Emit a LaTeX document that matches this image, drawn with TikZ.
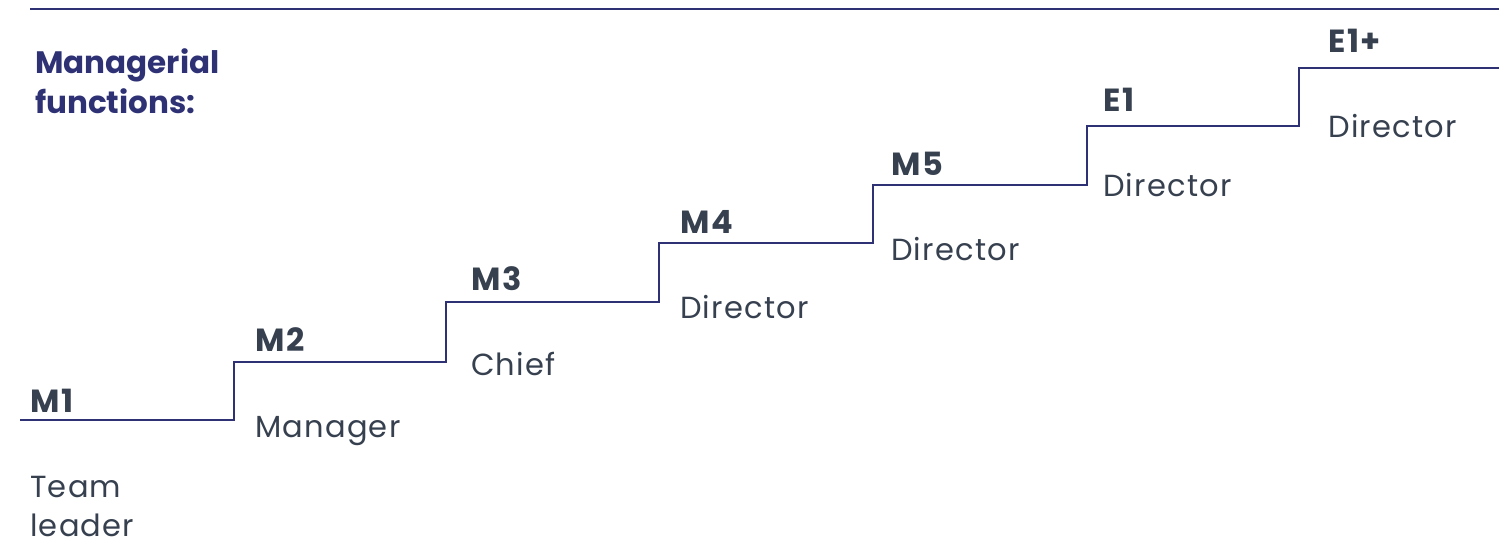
\documentclass[tikz,border=0pt]{standalone}
\usepackage{fontspec}
\setmainfont{Poppins}
\usepackage{tikz}
\definecolor{stairblue}{HTML}{2E3274}
\definecolor{labelgray}{HTML}{36404F}

\begin{document}
\begin{tikzpicture}[x=1pt,y=-1pt,
  level/.style={anchor=base west,inner sep=0pt,text=labelgray,font=\fontsize{32}{38}\selectfont\bfseries\addfontfeatures{LetterSpace=5}},
  role/.style={anchor=base west,inner sep=0pt,text=labelgray,font=\fontsize{30.5}{36}\selectfont\addfontfeatures{LetterSpace=4}},
  heading/.style={anchor=base west,inner sep=0pt,text=stairblue,font=\fontsize{31}{38}\selectfont\bfseries},
  stair/.style={line width=2.2pt,color=stairblue}]

	\useasboundingbox (0,0) rectangle (1499,541);

	% top rule

	\coordinate (ruleL) at (30,9);
	\coordinate (ruleR) at (1499,9);
	\draw[stair] (ruleL) -- (ruleR);

	% heading

	\node[heading] (head1) at (35,73) {Managerial};
	\node[heading] (head2) at (35,113) {functions:};

	% the staircase

	\coordinate (s0) at (20,420);
	\coordinate (s1) at (234,362);
	\coordinate (s2) at (446,302);
	\coordinate (s3) at (659,243);
	\coordinate (s4) at (873,185);
	\coordinate (s5) at (1087,126);
	\coordinate (s6) at (1299,68);
	\coordinate (s7) at (1499,68);
	\draw[stair] (s0) -| (s1) -| (s2) -| (s3) -| (s4) -| (s5) -| (s6) -- (s7);

	% levels and roles

	\node[level] (m1) at (30,412) {M1};
	\node[role] (team) at (30,497) {Team};
	\node[role] (leader) at (30,536) {leader};

	\node[level] (m2) at (255,351) {M2};
	\node[role] (manager) at (255,437) {Manager};

	\node[level] (m3) at (471,290) {M3};
	\node[role] (chief) at (471,375) {Chief};

	\node[level] (m4) at (680,233) {M4};
	\node[role] (dir4) at (680,318) {Director};

	\node[level] (m5) at (891,175) {M5};
	\node[role] (dir5) at (891,260) {Director};

	\node[level] (e1) at (1103,111) {E1};
	\node[role] (dir6) at (1103,196) {Director};

	\node[level] (e1p) at (1328,52) {E1+};
	\node[role] (dir7) at (1328,137) {Director};
\end{tikzpicture}
\end{document}
